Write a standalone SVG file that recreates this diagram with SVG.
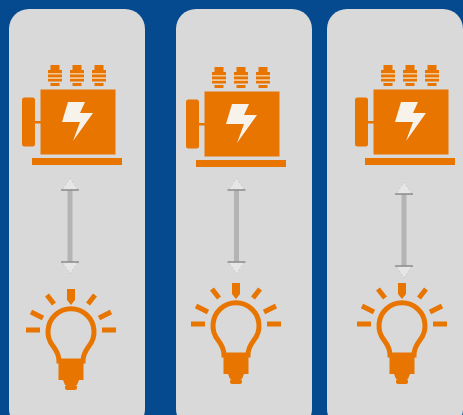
<svg xmlns="http://www.w3.org/2000/svg" width="463" height="415" viewBox="0 0 463 415">
<style>
.panel{fill:#d9d9d9}
.o{fill:#e87400}
.lamp{fill:none;stroke:#e87400;stroke-width:5}
.ray{fill:none;stroke:#e87400;stroke-width:5}
.soft{filter:url(#b)}
.shaft{stroke:#b4b4b4;stroke-width:5;fill:none}
.bar{stroke:#8c8c8c;stroke-width:1.6;fill:none}
.head{fill:#e6e6e6;stroke:#c8c8c8;stroke-width:1;stroke-dasharray:2 2}
</style>
<defs>
<filter id="b" x="-10%" y="-10%" width="120%" height="120%"><feGaussianBlur stdDeviation="0.7"/></filter>
<g id="stud">
<rect class="o" x="-4.500" y="0" width="9" height="5"/>
<rect class="o" x="-7" y="5" width="14" height="3"/>
<rect x="-7" y="8" width="14" height="1.500" fill="#f7c48c"/>
<rect class="o" x="-7" y="9.500" width="14" height="3"/>
<rect x="-7" y="12.500" width="14" height="1.500" fill="#f7c48c"/>
<rect class="o" x="-7" y="14" width="14" height="2.500"/>
<rect class="o" x="-4.500" y="18" width="9" height="3"/>
</g>
<g id="motor" class="soft">
<use href="#stud" x="55" y="65"/>
<use href="#stud" x="77" y="65"/>
<use href="#stud" x="99" y="65"/>
<rect class="o" x="40.500" y="89.500" width="75" height="65"/>
<rect class="o" x="22" y="97.500" width="13" height="49" rx="2.500"/>
<rect class="o" x="35" y="121" width="6" height="2.500"/>
<rect class="o" x="32" y="158" width="90" height="7"/>
<path d="M68 102H85L80 113H93L73 141L80 122H62Z" fill="#f7f3ea"/>
</g>
<g id="arrow" class="soft">
<path class="head" d="M0 0L8 12H-8Z"/>
<path class="head" d="M0 96L8 84H-8Z"/>
<path class="shaft" d="M0 12V84"/>
<path class="bar" d="M-9 12H9M-9 84H9"/>
</g>
<g id="bulb" class="soft">
<path class="lamp" d="M-12 30C-12 24 -15 19 -18 15A23 23 0 1 1 18 15C15 19 12 24 12 30Z"/>
<path class="o" d="M-12.500 31H12.500V49H-12.500Z"/>
<path class="o" d="M-8 49H8L6 54H-6Z"/>
<rect class="o" x="-6" y="54" width="12" height="5" rx="2"/>
<path class="ray" d="M-45 -1H-31M31 -1H45M-40 -19L-28 -13M40 -19L28 -13M-24 -36L-17 -27M24 -36L17 -27"/>
<path class="o" d="M-4 -42H4V-31L0 -26L-4 -31Z"/>
</g>
</defs>
<rect id="background" width="463" height="415" fill="#054a8f"/>
<g id="panel-1"><rect class="panel" x="9" y="9" width="136" height="420" rx="20"/></g>
<g id="panel-2"><rect class="panel" x="176" y="9" width="136" height="420" rx="20"/></g>
<g id="panel-3"><rect class="panel" x="327" y="9" width="136" height="420" rx="20"/></g>
<g id="motor-1"><use href="#motor"/></g>
<g id="motor-2"><use href="#motor" x="164" y="2"/></g>
<g id="motor-3"><use href="#motor" x="333"/></g>
<g id="bulb-1"><use href="#bulb" x="71" y="331"/></g>
<g id="bulb-2"><use href="#bulb" x="236" y="325"/></g>
<g id="bulb-3"><use href="#bulb" x="402" y="325"/></g>
<g id="connectors">
<use href="#arrow" x="70" y="178"/>
<use href="#arrow" x="236.500" y="178"/>
<use href="#arrow" x="404" y="182"/>
</g>
</svg>
